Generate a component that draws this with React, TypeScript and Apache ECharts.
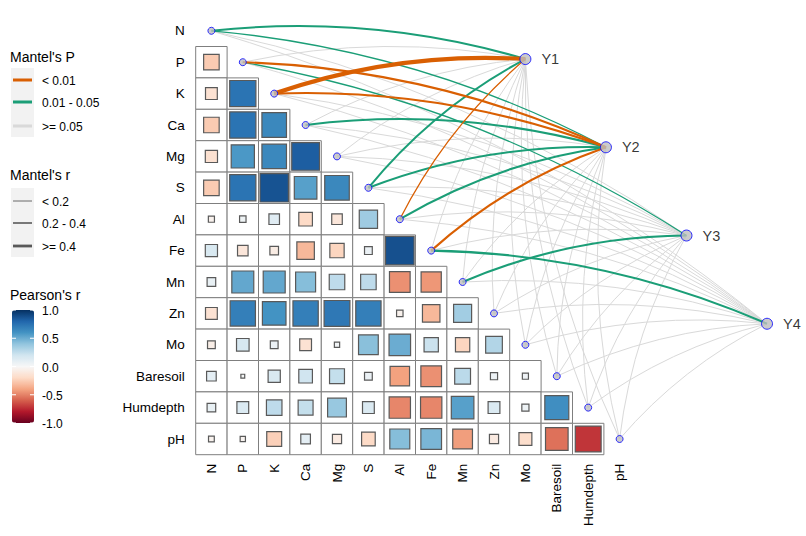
import React, { useEffect, useRef } from 'react';
import * as echarts from 'echarts';

// ---------------- data ----------------
const variables = ['N', 'P', 'K', 'Ca', 'Mg', 'S', 'Al', 'Fe', 'Mn', 'Zn', 'Mo', 'Baresoil', 'Humdepth', 'pH'];

// Pearson's r, lower triangle: row i lists the columns 0..i-1
const corrRows: number[][] = [
  [],
  [-0.26],
  [-0.15, 0.74],
  [-0.26, 0.74, 0.65],
  [-0.16, 0.58, 0.65, 0.83],
  [-0.26, 0.74, 0.87, 0.55, 0.65],
  [-0.04, 0.045, 0.12, -0.2, -0.12, 0.36],
  [0.16, -0.12, -0.08, -0.33, -0.22, 0.065, 0.88],
  [0.08, 0.52, 0.52, 0.43, 0.26, 0.26, -0.46, -0.44],
  [-0.15, 0.69, 0.6, 0.69, 0.72, 0.69, -0.045, -0.33, 0.35],
  [-0.065, 0.17, 0.065, -0.15, 0.03, 0.42, 0.5, 0.22, -0.22, 0.3],
  [0.1, 0.016, 0.16, 0.2, 0.24, 0.065, -0.41, -0.46, 0.27, 0.055, 0.04],
  [0.08, 0.15, 0.26, 0.24, 0.38, 0.15, -0.49, -0.49, 0.55, 0.15, 0.055, 0.62],
  [-0.036, -0.03, -0.24, 0.1, -0.09, -0.2, 0.43, 0.46, -0.42, -0.09, -0.18, -0.55, -0.72],
];

const specNames = ['Y1', 'Y2', 'Y3', 'Y4'];

// Mantel's r and p for each spec (rows) against each variable (columns)
const mantelR: number[][] = [
  [0.28, 0.12, 0.45, 0.10, 0.08, 0.25, 0.16, 0.06, 0.09, 0.07, 0.05, 0.04, 0.06, 0.03],
  [0.15, 0.30, 0.32, 0.26, 0.10, 0.24, 0.22, 0.28, 0.08, 0.11, 0.06, 0.05, 0.07, 0.04],
  [0.06, 0.14, 0.08, 0.05, 0.07, 0.09, 0.10, 0.11, 0.23, 0.04, 0.05, 0.08, 0.06, 0.03],
  [0.05, 0.07, 0.04, 0.06, 0.05, 0.08, 0.12, 0.25, 0.09, 0.06, 0.04, 0.10, 0.07, 0.05],
];
const mantelP: number[][] = [
  [0.02, 0.20, 0.005, 0.15, 0.30, 0.03, 0.008, 0.40, 0.25, 0.35, 0.50, 0.60, 0.45, 0.70],
  [0.03, 0.004, 0.003, 0.02, 0.12, 0.03, 0.04, 0.006, 0.30, 0.18, 0.40, 0.55, 0.35, 0.65],
  [0.40, 0.04, 0.30, 0.50, 0.35, 0.25, 0.20, 0.15, 0.02, 0.60, 0.55, 0.30, 0.45, 0.70],
  [0.50, 0.40, 0.60, 0.45, 0.55, 0.30, 0.10, 0.02, 0.25, 0.50, 0.60, 0.20, 0.35, 0.50],
];

const pearsonTicks = [1.0, 0.5, 0.0, -0.5, -1.0];
const pLegendLabels = ['< 0.01', '0.01 - 0.05', '>= 0.05'];
const rLegendLabels = ['< 0.2', '0.2 - 0.4', '>= 0.4'];

// ---------------- styles / layout ----------------
const RDBU = ['#67001F', '#B2182B', '#D6604D', '#F4A582', '#FDDBC7', '#F7F7F7', '#D1E5F0', '#92C5DE', '#4393C3', '#2166AC', '#053061'];
const COLOR_P = ['#D95F02', '#1B9E77', '#D9D9D9'];
const WIDTH_R = [1.3, 2.1, 4.2];
const LEG_WIDTH_R = [0.9, 1.6, 2.8];
const FONT = "'Liberation Sans', Arial, sans-serif";

const CELL = 31.4;
const GRID_LEFT = 195.7;
const GRID_TOP = 15.1;
const SPEC_X0 = 10.0, SPEC_DX = 2.565, SPEC_Y0 = 0.9, SPEC_DY = 2.81;
const CURV = 0.1;

const pClass = (p: number) => (p < 0.01 ? 0 : p < 0.05 ? 1 : 2);
const rClass = (r: number) => (r < 0.2 ? 0 : r < 0.4 ? 1 : 2);

export default function App() {
  const ref = useRef<HTMLDivElement>(null);

  useEffect(() => {
    if (!ref.current) return;
    const chart = echarts.init(ref.current, undefined, { renderer: 'svg' });

    const n = variables.length;
    const tiles: number[][] = [];
    corrRows.forEach((row, i) => row.forEach((r, j) => tiles.push([j, i, r])));

    const links: number[][] = [];
    specNames.forEach((_, s) => {
      variables.forEach((_, v) => {
        const r = mantelR[s][v];
        const p = mantelP[s][v];
        links.push([v, s, r, p, pClass(p), rClass(r)]);
      });
    });
    links.sort((a, b) => b[4] - a[4]);

    const diag = variables.map((_, i) => [i, i]);
    const specPts = specNames.map((name, s) => [SPEC_X0 + SPEC_DX * s, SPEC_Y0 + SPEC_DY * s, name]);

    const graphics: any[] = [];
    const txt = (text: string, x: number, y: number, size: number) => ({
      type: 'text', z: 100, silent: true,
      style: { text, x, y, fill: '#000', font: `${size}px ${FONT}`, textAlign: 'left', textVerticalAlign: 'middle' },
    });
    // Mantel's P legend
    graphics.push(txt("Mantel's P", 10, 57, 14));
    graphics.push({ type: 'rect', z: 99, silent: true, shape: { x: 11, y: 68, width: 23, height: 69 }, style: { fill: '#F2F2F2' } });
    [80, 102, 126].forEach((y, k) => {
      graphics.push({ type: 'line', z: 100, silent: true, shape: { x1: 13, y1: y, x2: 32, y2: y }, style: { stroke: COLOR_P[k], lineWidth: 3 } });
      graphics.push(txt(pLegendLabels[k], 42, y + 1, 12));
    });
    // Mantel's r legend
    graphics.push(txt("Mantel's r", 10, 175, 14));
    graphics.push({ type: 'rect', z: 99, silent: true, shape: { x: 11, y: 188, width: 23, height: 69 }, style: { fill: '#F2F2F2' } });
    [201, 223, 246].forEach((y, k) => {
      graphics.push({ type: 'line', z: 100, silent: true, shape: { x1: 13, y1: y, x2: 32, y2: y }, style: { stroke: '#595959', lineWidth: LEG_WIDTH_R[k] } });
      graphics.push(txt(rLegendLabels[k], 42, y + 1, 12));
    });
    // Pearson's r colorbar labels
    graphics.push(txt("Pearson's r", 10, 295, 14));
    const barTop = 310, barH = 113, barL = 12, barW = 22;
    pearsonTicks.forEach((v) => {
      const y = barTop + (1 - (v + 1) / 2) * barH;
      graphics.push(txt(v.toFixed(1), 42, y + 1, 12));
      graphics.push({ type: 'line', z: 100, silent: true, shape: { x1: barL, y1: y, x2: barL + 4, y2: y }, style: { stroke: '#FFFFFF', lineWidth: 1 } });
      graphics.push({ type: 'line', z: 100, silent: true, shape: { x1: barL + barW - 4, y1: y, x2: barL + barW, y2: y }, style: { stroke: '#FFFFFF', lineWidth: 1 } });
    });

    const axisLabelStyle = { color: '#000', fontSize: 13.5, fontFamily: FONT };
    const ticks = variables.map((_, i) => i);

    chart.setOption({
      animation: false,
      backgroundColor: '#FFFFFF',
      grid: { left: GRID_LEFT, top: GRID_TOP, width: CELL * n, height: CELL * n, containLabel: false, outerBoundsMode: 'none' },
      xAxis: {
        type: 'value', min: -0.5, max: n - 0.5,
        axisLine: { show: false }, axisTick: { show: false }, splitLine: { show: false },
        axisLabel: { ...axisLabelStyle, rotate: 90, margin: 9, customValues: ticks, formatter: (v: number) => variables[Math.round(v)] ?? '' },
      },
      yAxis: {
        type: 'value', min: -0.5, max: n - 0.5, inverse: true,
        axisLine: { show: false }, axisTick: { show: false }, splitLine: { show: false },
        axisLabel: { ...axisLabelStyle, margin: 11, customValues: ticks, formatter: (v: number) => variables[Math.round(v)] ?? '' },
      },
      visualMap: {
        type: 'continuous', min: -1, max: 1, dimension: 2, seriesIndex: 0,
        inRange: { color: RDBU }, calculable: false, show: true,
        left: barL, top: barTop, itemWidth: barW, itemHeight: barH, padding: 0, orient: 'vertical',
      },
      graphic: { elements: graphics },
      series: [
        {
          type: 'custom', name: 'corr', data: tiles, encode: { x: 0, y: 1 }, clip: false,
          renderItem: (_p: any, api: any) => {
            const c = api.coord([api.value(0), api.value(1)]);
            const sz = api.size([1, 1]);
            const w = Math.abs(sz[0]), h = Math.abs(sz[1]);
            const side = Math.sqrt(Math.abs(api.value(2))) * w * 0.97;
            return {
              type: 'group',
              children: [
                { type: 'rect', shape: { x: c[0] - w / 2, y: c[1] - h / 2, width: w, height: h }, style: { fill: '#FFFFFF', stroke: '#7F7F7F', lineWidth: 1 } },
                { type: 'rect', shape: { x: c[0] - side / 2, y: c[1] - side / 2, width: side, height: side }, style: { fill: api.visual('color'), stroke: '#595959', lineWidth: 1.2 } },
              ],
            };
          },
        },
        {
          type: 'custom', name: 'mantel', data: links, encode: { x: 0, y: 1 }, clip: false, silent: true,
          renderItem: (_p: any, api: any) => {
            const v = api.value(0), s = api.value(1), pc = api.value(4), rc = api.value(5);
            const a = api.coord([v, v]);
            const b = api.coord([SPEC_X0 + SPEC_DX * s, SPEC_Y0 + SPEC_DY * s]);
            const dx = b[0] - a[0], dy = b[1] - a[1];
            const cx = (a[0] + b[0]) / 2 + dy * CURV;
            const cy = (a[1] + b[1]) / 2 - dx * CURV;
            return {
              type: 'bezierCurve',
              shape: { x1: a[0], y1: a[1], x2: b[0], y2: b[1], cpx1: cx, cpy1: cy },
              style: { stroke: COLOR_P[pc], lineWidth: pc === 2 ? 1 : WIDTH_R[rc], fill: 'none' },
            };
          },
        },
        {
          type: 'scatter', name: 'vars', data: diag, symbol: 'circle', symbolSize: 7, clip: false, silent: true,
          itemStyle: { color: '#BEBEBE', borderColor: '#0000FF', borderWidth: 1 },
        },
        {
          type: 'scatter', name: 'spec', data: specPts, symbol: 'circle', symbolSize: 11, clip: false, silent: true,
          itemStyle: { color: '#BEBEBE', borderColor: '#0000FF', borderWidth: 1 },
          label: { show: true, position: 'right', distance: 10, formatter: (p: any) => p.data[2], color: '#000', fontSize: 14.5, fontFamily: FONT },
        },
      ],
    });

    return () => chart.dispose();
  }, []);

  return <div ref={ref} style={{ position: 'fixed', left: 0, top: 0, width: 806, height: 536 }} />;
}
